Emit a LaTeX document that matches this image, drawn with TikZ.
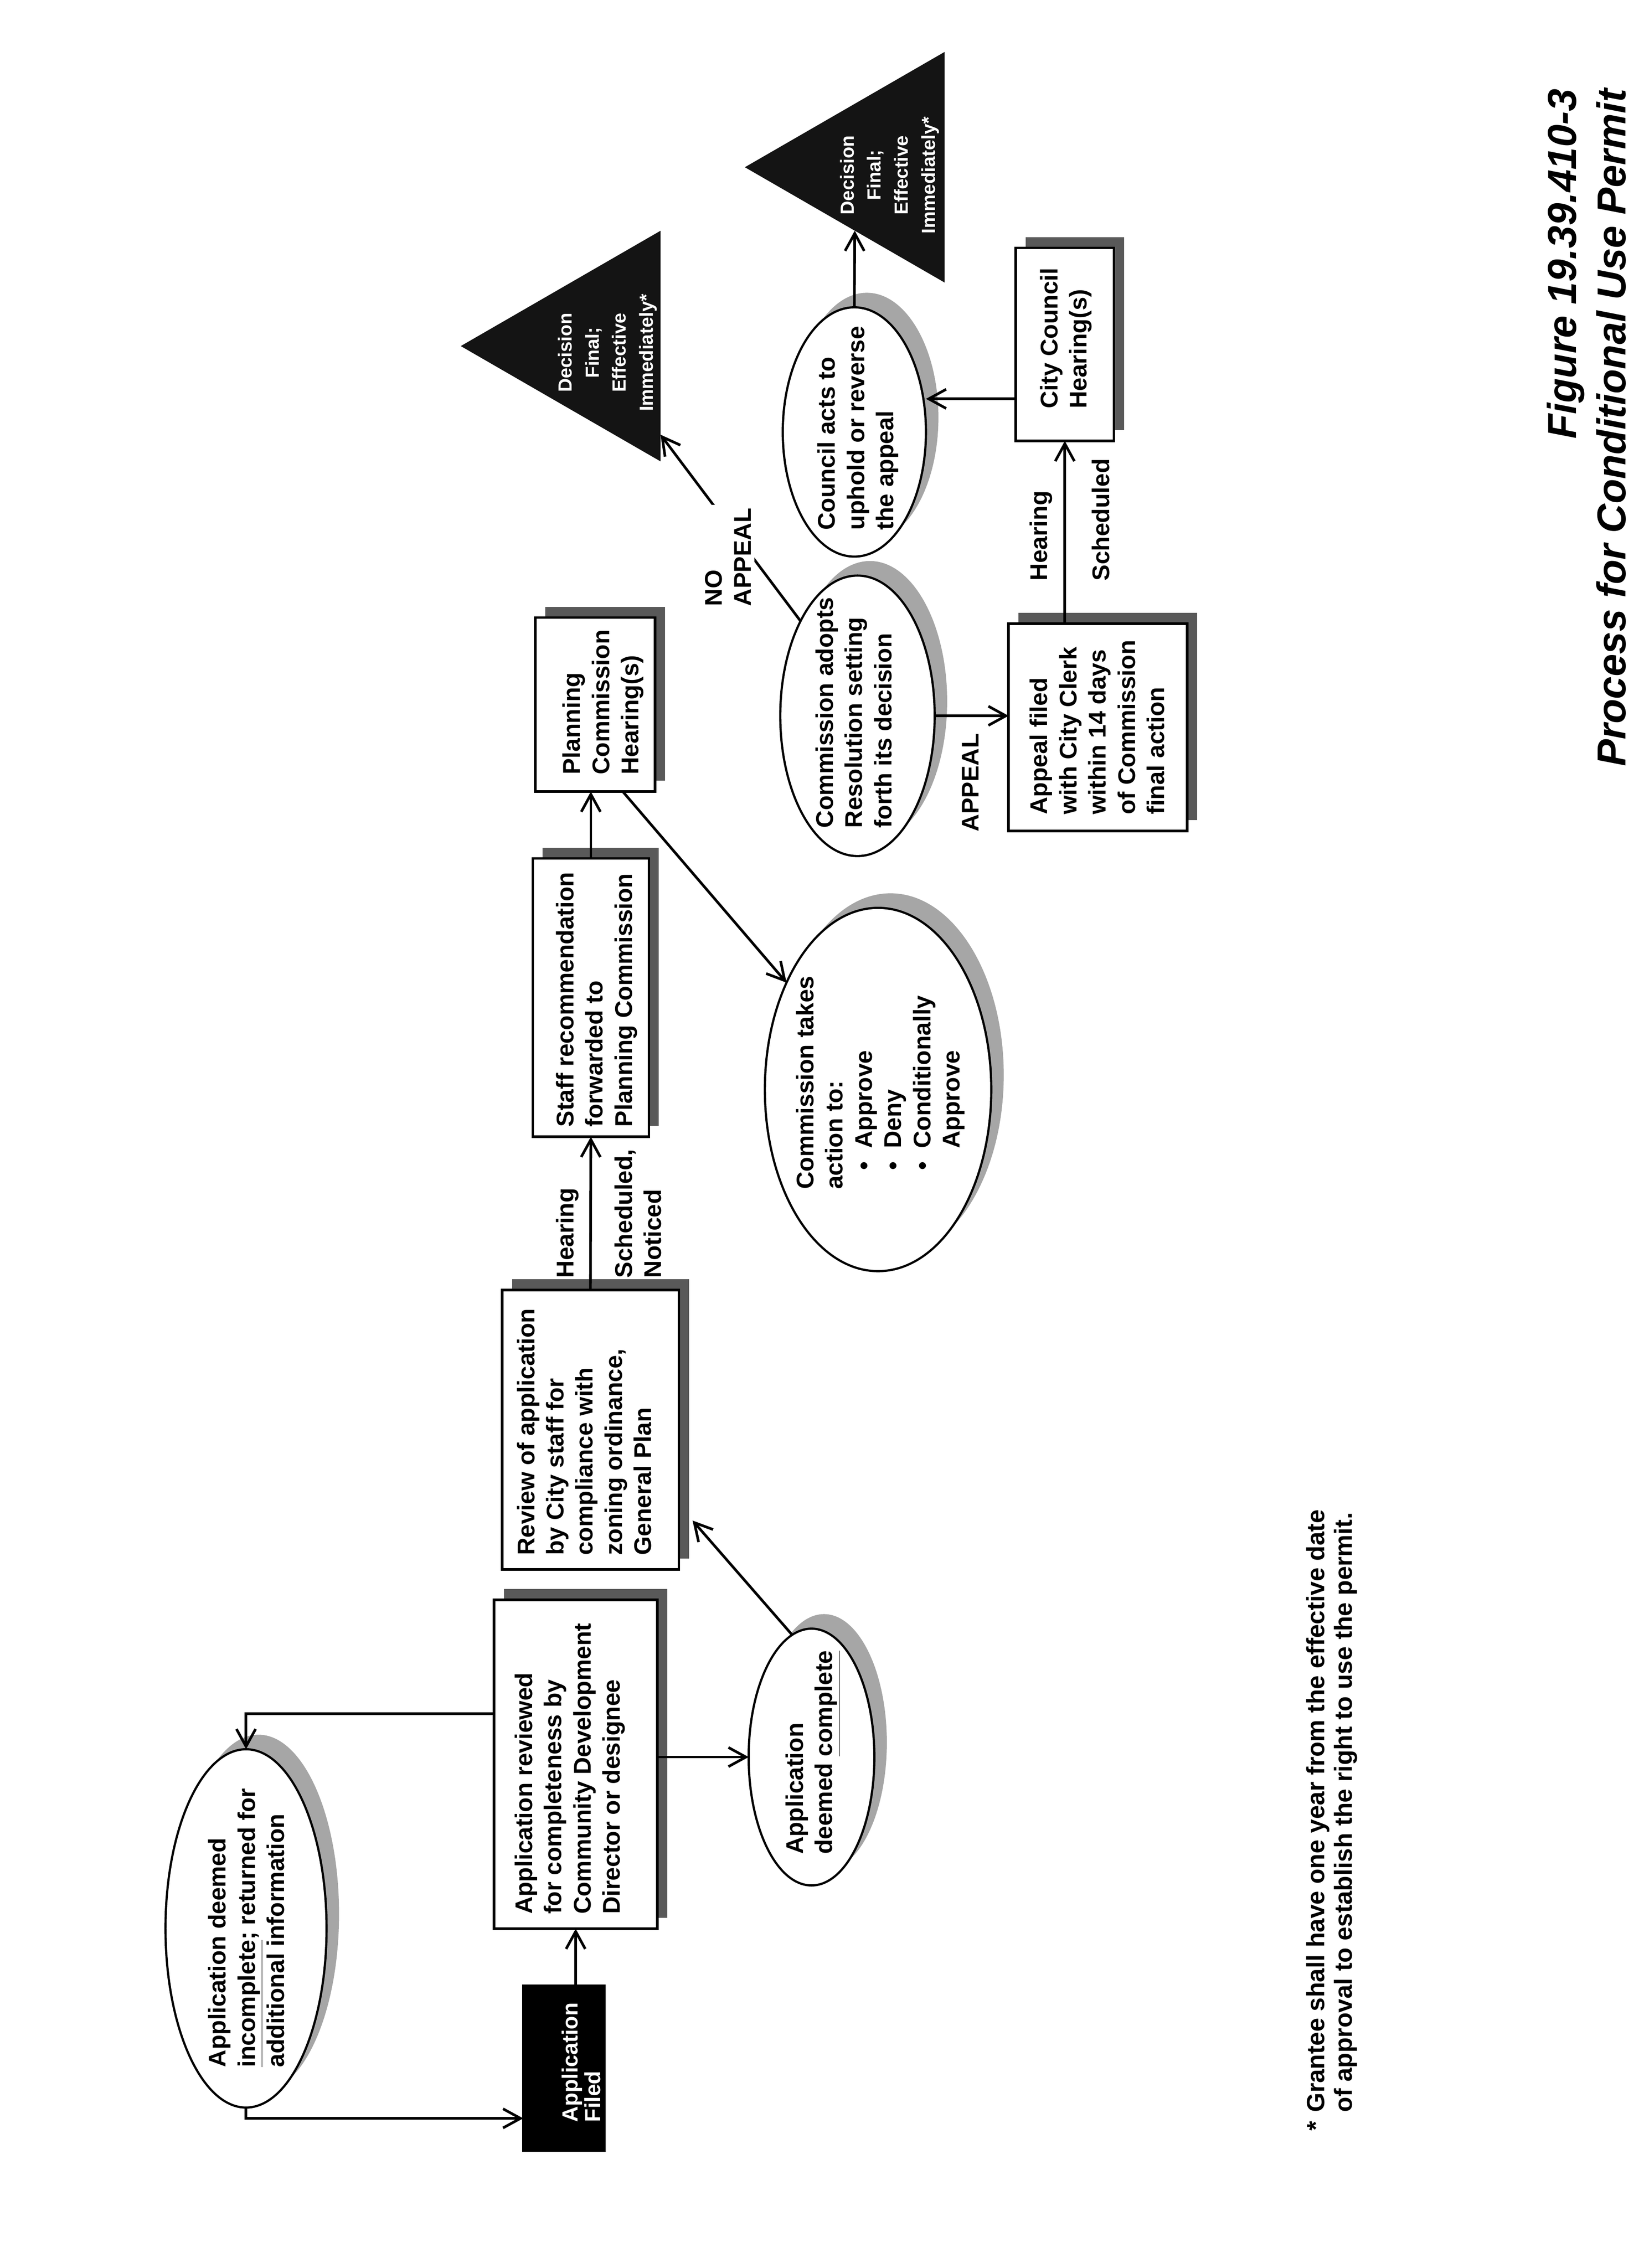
\documentclass[tikz,border=0pt]{standalone}
\usepackage{fontspec}
\setmainfont{Liberation Sans}
\usetikzlibrary{shapes.geometric,arrows.meta,calc}
\pgfdeclarelayer{paper}
\pgfdeclarelayer{back}
\pgfsetlayers{paper,back,main}
\newcommand\mainfs{\fontsize{16.5pt}{20pt}\selectfont\bfseries}
\newcommand\filedfs{\fontsize{15pt}{15.5pt}\selectfont\bfseries}
\newcommand\trifs{\fontsize{13pt}{18.5pt}\selectfont\bfseries}
\newcommand\titlefs{\fontsize{27.6pt}{33.9pt}\selectfont\bfseries\itshape}
\newcommand\notefs{\fontsize{17pt}{19pt}\selectfont\bfseries}
\newcommand\bul{\makebox[28pt][l]{\hspace*{13pt}\textbullet}}
\tikzset{
  box/.style={rectangle, draw, line width=1.8pt, fill=white, inner sep=0pt, outer sep=0pt},
  oval/.style={ellipse, draw, line width=1.5pt, fill=white, inner sep=0pt, outer sep=0pt},
  tri/.style={regular polygon, regular polygon sides=3, fill=black!92, inner sep=0pt, outer sep=0pt, minimum size=6.4cm},
  txt/.style={anchor=north west, align=left, inner sep=0pt, font=\mainfs},
  tritxt/.style={anchor=north, align=center, inner sep=0pt, text=white, font=\trifs},
  arr/.style={line width=1.8pt, -{Straight Barb[length=4.2mm, width=4.6mm]}},
  bshad/.style={rectangle, fill=black!65, inner sep=0pt, outer sep=0pt},
  eshad/.style={ellipse, fill=black!35, inner sep=0pt, outer sep=0pt},
  filedsz/.style={minimum width=3.95cm, minimum height=1.95cm},
  reviewedsz/.style={minimum width=7.9cm, minimum height=3.92cm},
  incsz/.style={minimum width=8.61cm, minimum height=3.87cm},
  compsz/.style={minimum width=6.17cm, minimum height=3.02cm},
  reviewsz/.style={minimum width=6.71cm, minimum height=4.25cm},
  staffsz/.style={minimum width=6.69cm, minimum height=2.79cm},
  plansz/.style={minimum width=4.18cm, minimum height=2.88cm},
  takessz/.style={minimum width=8.73cm, minimum height=5.44cm},
  adoptsz/.style={minimum width=6.74cm, minimum height=3.71cm},
  councilsz/.style={minimum width=5.99cm, minimum height=3.44cm},
  appealsz/.style={minimum width=4.98cm, minimum height=4.29cm},
  ccsz/.style={minimum width=4.64cm, minimum height=2.36cm},
}
\begin{document}
\begin{tikzpicture}
\begin{pgfonlayer}{paper}
\fill[white] (0,0) rectangle (39.5,54.5);
\end{pgfonlayer}
\useasboundingbox (0,0) rectangle (39.5,54.5);
\begin{scope}[x=0.01cm, y=0.01cm, rotate=90, transform shape]
% ---------- shapes ----------
\node[box, fill=black, filedsz] (filed) at (480.5,-1355.5) {};
\node[box, reviewedsz] (reviewed) at (1211,-1384) {};
\node[oval, incsz] (incomplete) at (816.5,-591.5) {};
\node[oval, compsz] (complete) at (1228.5,-1951) {};
\node[box, reviewsz] (review) at (2015.5,-1419.5) {};
\node[box, staffsz] (staff) at (3054.5,-1420.5) {};
\node[box, plansz] (planning) at (3759,-1431) {};
\node[oval, takessz] (takes) at (2833.5,-2111) {};
\node[oval, adoptsz] (adopts) at (3732,-2061.5) {};
\node[oval, councilsz] (council) at (4414.5,-2054) {};
\node[box, appealsz] (appeal) at (3704,-2639.5) {};
\node[box, ccsz] (cc) at (4625,-2560) {};
\node[tri] (tri1) at (4621,-1428) {};
\node[tri] (tri2) at (5051,-2111) {};
% ---------- shadows ----------
\begin{pgfonlayer}{back}
\node[bshad, reviewedsz] (sh1) at ($(reviewed)+(26,-24)$) {};
\node[bshad, reviewsz] (sh2) at ($(review)+(26,-24)$) {};
\node[bshad, staffsz] (sh3) at ($(staff)+(26,-24)$) {};
\node[bshad, plansz] (sh4) at ($(planning)+(26,-24)$) {};
\node[bshad, appealsz] (sh5) at ($(appeal)+(26,-24)$) {};
\node[bshad, ccsz] (sh6) at ($(cc)+(26,-24)$) {};
\node[eshad, incsz] (sh7) at ($(incomplete)+(35,-30)$) {};
\node[eshad, compsz] (sh8) at ($(complete)+(35,-30)$) {};
\node[eshad, takessz] (sh9) at ($(takes)+(35,-30)$) {};
\node[eshad, adoptsz] (sh10) at ($(adopts)+(35,-30)$) {};
\node[eshad, councilsz] (sh11) at ($(council)+(35,-30)$) {};
\end{pgfonlayer}
% ---------- connectors ----------
\draw[arr] (filed.east |- reviewed) -- (reviewed.west);
\coordinate (rvtop) at ($(reviewed.north west)!0.654!(reviewed.north east)$);
\draw[arr] (rvtop) |- (incomplete.east);
\draw[arr] (incomplete.west) -- ++(-26,0) coordinate (c1) -- (c1 |- filed.north);
\draw[arr] (complete |- reviewed.south) -- (complete.north);
\draw[arr, shorten >=0.5cm] (complete.9) -- ($(review.south west)!0.231!(review.south east)$);
\draw[arr] (review.east) -- (staff.west);
\draw[arr] (staff.east) -- (staff.east -| planning.west);
\draw[arr] ($(planning.south west)!0.27!(planning.north west)$) -- (takes);
\draw[arr] (adopts.31) -- (tri1);
\draw[arr] (adopts.south) -- (adopts.south |- appeal.north);
\draw[arr] (appeal.east |- cc) -- (cc.west);
\coordinate (ccs) at ($(cc.north west)!0.218!(cc.north east)$);
\draw[arr] (ccs) -- (ccs |- council.south);
\draw[arr] (council.east) -- ($(tri2.corner 1)!0.55!(tri2.corner 2)$);
% ---------- texts ----------
\node[txt, text=white, font=\filedfs] (filedt) at (350,-1350) {Application\\Filed};
\node[txt] (reviewedt) at (850,-1237) {Application reviewed\\for completeness by\\Community Development\\Director or designee};
\node[txt] (inct) at (482,-500) {Application deemed\\\underline{incomplete}; returned for\\additional information};
\node[txt] (compt) at (994,-1888) {Application\\deemed \underline{complete}};
\node[txt] (reviewt) at (1713,-1242) {Review of application\\by City staff for\\compliance with\\zoning ordinance,\\General Plan};
\node[txt] (stafft) at (2743,-1336) {Staff recommendation\\forwarded to\\Planning Commission};
\node[txt] (plant) at (3590,-1352) {Planning\\Commission\\Hearing(s)};
\node[txt] (takest) at (2593,-1913) {Commission takes\\action to:\\\bul Approve\\\bul Deny\\\bul Conditionally\\\hspace*{28pt}Approve};
\node[txt] (adoptt) at (3462,-1960) {Commission adopts\\Resolution setting\\forth its decision};
\node[txt] (councilt) at (4178,-1965) {Council acts to\\uphold or reverse\\the appeal};
\node[txt] (appealt) at (3494,-2475) {Appeal filed\\with City Clerk\\within 14 days\\of Commission\\final action};
\node[txt] (cct) at (4470,-2500) {City Council\\Hearing(s)};
\node[txt] (hear1) at (2380,-1336) {Hearing};
\node[txt] (sched1) at (2380,-1477) {Scheduled,\\Noticed};
\node[txt] (hear2) at (4056,-2475) {Hearing};
\node[txt] (sched2) at (4056,-2624) {Scheduled};
\node[txt] (appl) at (3453,-2312) {APPEAL};
\node[txt, fill=white, inner sep=2.3pt] (noappeal) at (3987,-1686) {NO\\APPEAL};
\node[tritxt] (tri1t) at (4605,-1341) {Decision\\Final;\\Effective\\Immediately*};
\node[tritxt] (tri2t) at (5032,-2019) {Decision\\Final;\\Effective\\Immediately*};
\node[anchor=north east, align=right, inner sep=0pt, font=\titlefs] (title) at (5240,-3718) {Figure 19.39.410-3\\Process for Conditional Use Permit};
\node[txt, font=\notefs] (note) at (329,-3140) {\makebox[12.8pt][l]{*}Grantee shall have one year from the effective date\\\hspace*{12.8pt}of approval to establish the right to use the permit.};
\end{scope}
\end{tikzpicture}
\end{document}
